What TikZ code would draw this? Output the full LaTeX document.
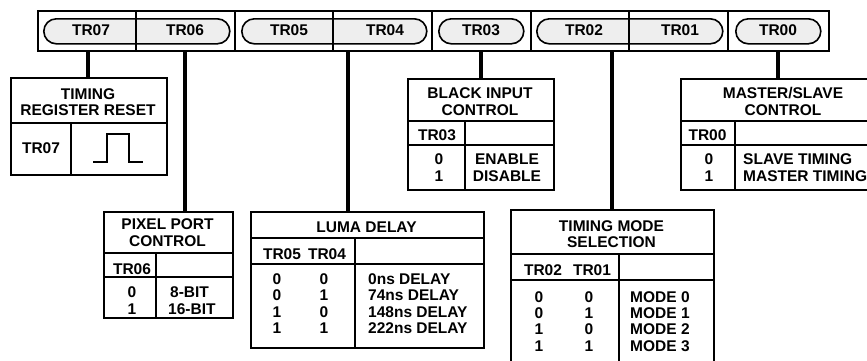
\documentclass[tikz,border=0pt]{standalone}
\usepackage{fontspec}
\setmainfont{Liberation Sans}
\definecolor{pillgray}{HTML}{EEEEEE}
\begin{document}
\begin{tikzpicture}[x=1pt,y=-1pt,
  txt/.style={font=\fontsize{15.5}{16}\selectfont\bfseries, inner sep=0pt, anchor=base},
  lt/.style={txt, anchor=base west},
  ctr/.style={txt, anchor=center},
  frame/.style={draw, line width=1.9pt, inner sep=0pt, anchor=north west},
  inner/.style={line width=1.7pt},
  thin/.style={line width=1.1pt},
  conn/.style={line width=3.2pt},
  pill/.style={draw, line width=1.6pt, fill=pillgray, rounded corners=12.5pt, inner sep=0pt, anchor=north west, minimum height=25pt}]
\useasboundingbox (0,0) rectangle (867,360);
\clip (0,0) rectangle (867,360);

% ---------- register bar ----------
\node[frame, minimum width=791pt, minimum height=40pt] (bar) at (37,10) {};
\node[pill, minimum width=186pt] (p76) at (43,18) {};
\node[pill, minimum width=185pt] (p54) at (241,18) {};
\node[pill, minimum width=85pt]  (p3)  at (438,18) {};
\node[pill, minimum width=186pt] (p21) at (536,18) {};
\node[pill, minimum width=85pt]  (p0)  at (735,18) {};
\draw[line width=1.9pt] (235,10) -- (235,50) (432,10) -- (432,50)
  (531,10) -- (531,50) (728,10) -- (728,50);
\draw[thin] (136,10) -- (136,50) (333,10) -- (333,50) (629,10) -- (629,50);
\node[ctr] (l7) at (91,30.5) {TR07};
\node[ctr] (l6) at (185,30.5) {TR06};
\node[ctr] (l5) at (289,30.5) {TR05};
\node[ctr] (l4) at (385,30.5) {TR04};
\node[ctr] (l3) at (481,30.5) {TR03};
\node[ctr] (l2) at (584,30.5) {TR02};
\node[ctr] (l1) at (680,30.5) {TR01};
\node[ctr] (l0) at (778,30.5) {TR00};

% ---------- tables ----------
% timing register reset
\node[frame, minimum width=156pt, minimum height=97pt] (t1) at (10,77) {};
\draw[inner] (10,123) -- (166,123) (71,123) -- (71,174);
\node[txt] (t1a) at (88,99) {TIMING};
\node[txt] (t1b) at (88,115) {REGISTER RESET};
\node[txt] (t1c) at (41,153.5) {TR07};
\draw[line width=1.7pt] (93,162) -- (107,162) -- (107,134) -- (129,134) -- (129,162) -- (143,162);

% black input control
\node[frame, minimum width=146pt, minimum height=111pt] (t2) at (407,78) {};
\draw[inner] (407,121) -- (553,121) (407,145) -- (553,145) (465,121) -- (465,189);
\node[txt] (t2a) at (480,98) {BLACK INPUT};
\node[txt] (t2b) at (480,115) {CONTROL};
\node[txt] (t2c) at (437,140) {TR03};
\node[txt] (t2d) at (439,164) {0};
\node[txt] (t2e) at (439,181) {1};
\node[txt] (t2f) at (507,164) {ENABLE};
\node[txt] (t2g) at (507,181) {DISABLE};

% master/slave control
\node[frame, minimum width=206pt, minimum height=111pt] (t3) at (680,78) {};
\draw[inner] (680,121) -- (886,121) (680,145) -- (886,145) (735,121) -- (735,189);
\node[txt] (t3a) at (783,98) {MASTER/SLAVE};
\node[txt] (t3b) at (783,115) {CONTROL};
\node[txt] (t3c) at (707.5,140) {TR00};
\node[txt] (t3d) at (709,164) {0};
\node[txt] (t3e) at (709,181) {1};
\node[lt] (t3f) at (743,164) {SLAVE TIMING};
\node[lt] (t3g) at (743,181) {MASTER TIMING};

% pixel port control
\node[frame, minimum width=129pt, minimum height=106pt] (t4) at (103,211) {};
\draw[inner] (103,253) -- (232,253) (103,277) -- (232,277) (156,253) -- (156,317);
\node[txt] (t4a) at (167.5,229) {PIXEL PORT};
\node[txt] (t4b) at (167.5,246) {CONTROL};
\node[txt] (t4c) at (132,274) {TR06};
\node[txt] (t4d) at (132,297) {0};
\node[txt] (t4e) at (132,314) {1};
\node[lt] (t4f) at (170,297) {8-BIT};
\node[lt] (t4g) at (168,314) {16-BIT};

% luma delay
\node[frame, minimum width=233pt, minimum height=136pt] (t5) at (250,211) {};
\draw[inner] (250,238) -- (483,238) (250,264) -- (483,264) (355,238) -- (355,347);
\node[txt] (t5a) at (366.5,232) {LUMA DELAY};
\node[txt] (t5b) at (282,259) {TR05};
\node[txt] (t5c) at (327,259) {TR04};
\node[txt] (t5d1) at (277,284) {0};
\node[txt] (t5d2) at (277,300.5) {0};
\node[txt] (t5d3) at (277,317) {1};
\node[txt] (t5d4) at (277,333.5) {1};
\node[txt] (t5e1) at (324,284) {0};
\node[txt] (t5e2) at (324,300.5) {1};
\node[txt] (t5e3) at (324,317) {0};
\node[txt] (t5e4) at (324,333.5) {1};
\node[lt] (t5f1) at (368,284) {0ns DELAY};
\node[lt] (t5f2) at (368,300.5) {74ns DELAY};
\node[lt] (t5f3) at (368,317) {148ns DELAY};
\node[lt] (t5f4) at (368,333.5) {222ns DELAY};

% timing mode selection
\node[frame, minimum width=203pt, minimum height=170pt] (t6) at (510,209) {};
\draw[inner] (510,254) -- (713,254) (510,280) -- (713,280) (619,254) -- (619,380);
\node[txt] (t6a) at (611.5,231) {TIMING MODE};
\node[txt] (t6b) at (611.5,247) {SELECTION};
\node[txt] (t6c) at (543,275) {TR02};
\node[txt] (t6d) at (592,275) {TR01};
\node[txt] (t6e1) at (539,302) {0};
\node[txt] (t6e2) at (539,318) {0};
\node[txt] (t6e3) at (539,334.5) {1};
\node[txt] (t6e4) at (539,351) {1};
\node[txt] (t6f1) at (589,302) {0};
\node[txt] (t6f2) at (589,318) {1};
\node[txt] (t6f3) at (589,334.5) {0};
\node[txt] (t6f4) at (589,351) {1};
\node[lt] (t6g1) at (630,302) {MODE 0};
\node[lt] (t6g2) at (630,318) {MODE 1};
\node[lt] (t6g3) at (630,334.5) {MODE 2};
\node[lt] (t6g4) at (630,351) {MODE 3};

% ---------- connectors ----------
\coordinate (b7) at (88,50);
\coordinate (b6) at (185,50);
\coordinate (b54) at (348,50);
\coordinate (b3) at (481,50);
\coordinate (b21) at (612,50);
\coordinate (b0) at (778,50);
\draw[conn] (b7) -- (b7 |- t1.north);
\draw[conn] (b6) -- (b6 |- t4.north);
\draw[conn] (b54) -- (b54 |- t5.north);
\draw[conn] (b3) -- (b3 |- t2.north);
\draw[conn] (b21) -- (b21 |- t6.north);
\draw[conn] (b0) -- (b0 |- t3.north);
\end{tikzpicture}
\end{document}
